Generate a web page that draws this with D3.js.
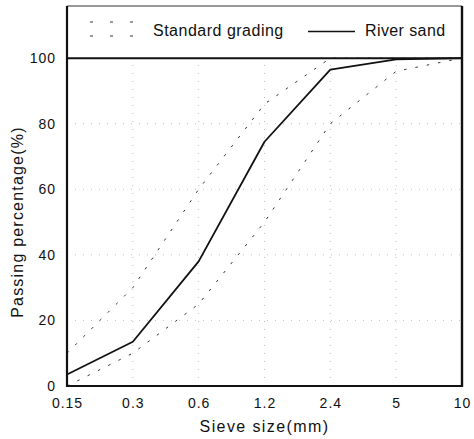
<!DOCTYPE html>
<html>
<head>
<meta charset="utf-8">
<script src="https://cdn.jsdelivr.net/npm/d3@7"></script>
<style>
  html, body { margin: 0; padding: 0; background: #fff; }
  svg { display: block; font-family: "Liberation Sans", Arial, Helvetica, sans-serif; }
</style>
</head>
<body>
<svg id="chart" width="474" height="439"></svg>
<script>
// ---- data ----
const sieveSizes = ["0.15", "0.3", "0.6", "1.2", "2.4", "5", "10"];
const riverSand = [3.5, 13.5, 38, 74.5, 96.5, 99.6, 100];
const gradingUpper = [10, 30, 60, 86, 100, 100, 100];
const gradingLower = [0, 10, 25, 50, 80, 96, 100];
const yTicks = [0, 20, 40, 60, 80, 100];
const legendLabels = ["Standard grading", "River sand"];
const xTitle = "Sieve size(mm)";
const yTitle = "Passing percentage(%)";

// ---- layout ----
const plot = { left: 67, right: 462, top: 6, bottom: 386 };
const svg = d3.select("#chart");

const x = d3.scalePoint().domain(sieveSizes).range([plot.left, plot.right]);
const y = d3.scaleLinear().domain([0, 115.9]).range([plot.bottom, plot.top]);

// grid
const grid = svg.append("g").attr("stroke", "#b0b0b0").attr("stroke-width", 0.8)
  .attr("stroke-dasharray", "1,7").attr("fill", "none");
grid.selectAll("line.v").data(sieveSizes.slice(1, -1)).join("line")
  .attr("x1", d => x(d)).attr("x2", d => x(d))
  .attr("y1", y(0)).attr("y2", y(100));
grid.selectAll("line.h").data(yTicks.filter(t => t > 0 && t < 100)).join("line")
  .attr("x1", plot.left).attr("x2", plot.right)
  .attr("y1", d => y(d)).attr("y2", d => y(d));

// standard grading bounds (dotted)
const line = d3.line().x((d, i) => x(sieveSizes[i])).y(d => y(d));
[gradingUpper, gradingLower].forEach(s => {
  svg.append("path").datum(s).attr("d", line)
    .attr("fill", "none").attr("stroke", "#333").attr("stroke-width", 1)
    .attr("stroke-dasharray", "2.5,9");
});

// river sand (solid)
svg.append("path").datum(riverSand).attr("d", line)
  .attr("fill", "none").attr("stroke", "#111").attr("stroke-width", 1.8)
  .attr("stroke-linejoin", "round");

// frame
svg.append("line").attr("x1", plot.left).attr("x2", plot.right)
  .attr("y1", plot.top).attr("y2", plot.top).attr("stroke", "#333").attr("stroke-width", 1.2);
svg.append("line").attr("x1", plot.left).attr("x2", plot.right)
  .attr("y1", y(100)).attr("y2", y(100)).attr("stroke", "#111").attr("stroke-width", 2);
svg.append("line").attr("x1", plot.left).attr("x2", plot.right)
  .attr("y1", plot.bottom).attr("y2", plot.bottom).attr("stroke", "#111").attr("stroke-width", 2.2);
svg.append("line").attr("x1", plot.left).attr("x2", plot.left)
  .attr("y1", plot.top).attr("y2", plot.bottom + 1).attr("stroke", "#111").attr("stroke-width", 2.2);
svg.append("line").attr("x1", plot.right).attr("x2", plot.right)
  .attr("y1", plot.top).attr("y2", plot.bottom + 1).attr("stroke", "#111").attr("stroke-width", 2.4);

// axes
const xAxis = svg.append("g").attr("transform", `translate(0,${plot.bottom})`)
  .call(d3.axisBottom(x).tickSize(0).tickPadding(12));
const yAxis = svg.append("g").attr("transform", `translate(${plot.left},0)`)
  .call(d3.axisLeft(y).tickValues(yTicks).tickSize(0).tickPadding(11));
[xAxis, yAxis].forEach(a => {
  a.select(".domain").remove();
  a.selectAll("text").attr("font-size", 14).attr("fill", "#111")
    .attr("font-family", "'Liberation Sans', Arial, sans-serif")
    .style("letter-spacing", "1px");
});

// titles
svg.append("text").attr("x", (plot.left + plot.right) / 2).attr("y", 432)
  .attr("text-anchor", "middle").attr("font-size", 16).attr("fill", "#111")
  .style("letter-spacing", "1.4px").text(xTitle);
svg.append("text").attr("transform", `translate(23,${(y(0) + y(100)) / 2}) rotate(-90)`)
  .attr("text-anchor", "middle").attr("font-size", 16).attr("fill", "#111")
  .style("letter-spacing", "1.2px").text(yTitle);

// legend
const lg = svg.append("g");
[22, 36].forEach(yy => {
  lg.append("line").attr("x1", 90).attr("x2", 134).attr("y1", yy).attr("y2", yy)
    .attr("stroke", "#333").attr("stroke-width", 1).attr("stroke-dasharray", "3,17");
});
lg.append("text").attr("x", 153).attr("y", 36).attr("font-size", 16).attr("fill", "#111")
  .style("letter-spacing", "0.5px").text(legendLabels[0]);
lg.append("line").attr("x1", 308).attr("x2", 355).attr("y1", 31.5).attr("y2", 31.5)
  .attr("stroke", "#111").attr("stroke-width", 1.3);
lg.append("text").attr("x", 365).attr("y", 36).attr("font-size", 16).attr("fill", "#111")
  .style("letter-spacing", "0.4px").text(legendLabels[1]);
</script>
</body>
</html>
